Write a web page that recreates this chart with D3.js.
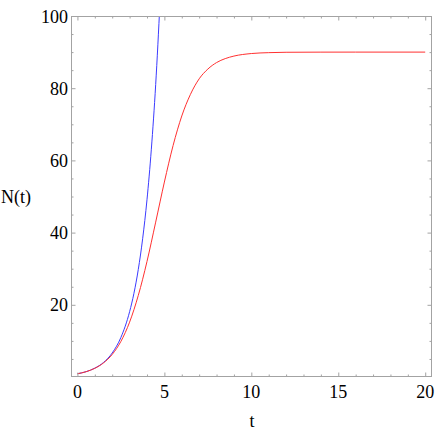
<!DOCTYPE html>
<html><head><meta charset="utf-8">
<script src="https://cdn.jsdelivr.net/npm/d3@7"></script>
<style>body{margin:0;background:#fff}svg{display:block}svg text.lbl{font-family:"Liberation Serif",Tinos,"Times New Roman",serif !important;font-size:18px}</style>
</head><body>
<svg id="c" width="436" height="436"></svg>
<script>
// exponential growth N(t) (blue)
const expT = [0, 0.5, 1, 1.5, 2, 2.5, 3, 3.25, 3.5, 3.75, 4, 4.25, 4.5, 4.75];
const expN = [0.9, 1.48, 2.45, 4.03, 6.65, 10.96, 18.08, 23.2, 29.8, 38.3, 49.1, 63.1, 81.0, 104];
// logistic growth N(t) (red)
const logT = [0, 0.5, 1, 1.5, 2, 2.5, 3, 3.5, 4, 4.5, 5, 5.5, 6, 6.5, 7, 7.5, 8, 8.5, 9, 10, 11, 12, 14, 16, 20];
const logN = [0.9, 1.47, 2.41, 3.9, 6.25, 9.86, 15.2, 22.6, 32.0, 42.9, 54.0, 64.1, 72.3, 78.3, 82.6, 85.3, 87.1, 88.2, 88.9, 89.6, 89.85, 89.95, 89.99, 90, 90];
const xMajor = [0, 5, 10, 15, 20];
const yMajor = [20, 40, 60, 80, 100];

const svg = d3.select("#c");
const L = 71, R = 432, T = 16, B = 377;
const x = d3.scaleLinear().domain([-0.37, 20.39]).range([L, R]);
const y = d3.scaleLinear().domain([0, 100]).range([B, T]);
const frameCol = "#a3a3a3";

svg.append("clipPath").attr("id", "clp").append("rect")
  .attr("x", L).attr("y", T).attr("width", R - L).attr("height", B - T);

const line = d3.line().x(d => x(d[0])).y(d => y(d[1])).curve(d3.curveMonotoneX);
const g = svg.append("g").attr("clip-path", "url(#clp)");
g.append("path").datum(expT.map((t, i) => [t, expN[i]]))
  .attr("d", line).attr("fill", "none").attr("stroke", "#3b3bff").attr("stroke-width", 1);
g.append("path").datum(logT.map((t, i) => [t, logN[i]]))
  .attr("d", line).attr("fill", "none").attr("stroke", "#ff3030").attr("stroke-width", 1);

const xMinor = d3.range(0, 21, 1).filter(v => !xMajor.includes(v));
const yMinor = d3.range(5, 100, 5).filter(v => !yMajor.includes(v));

function frameAxis(axisFn, scale, vals, size, transform) {
  const a = axisFn(scale).tickValues(vals).tickSize(size).tickFormat("");
  const gg = svg.append("g").attr("transform", transform).call(a);
  gg.select(".domain").remove();
  gg.selectAll(".tick text").remove();
  gg.selectAll(".tick line").attr("stroke", frameCol);
  return gg;
}
frameAxis(d3.axisTop, x, xMajor, 4.5, `translate(0,${B})`);
frameAxis(d3.axisTop, x, xMinor, 2.5, `translate(0,${B})`);
frameAxis(d3.axisBottom, x, xMajor, 4.5, `translate(0,${T})`);
frameAxis(d3.axisBottom, x, xMinor, 2.5, `translate(0,${T})`);
frameAxis(d3.axisRight, y, yMajor, 4.5, `translate(${L},0)`);
frameAxis(d3.axisRight, y, yMinor, 2.5, `translate(${L},0)`);
frameAxis(d3.axisLeft, y, yMajor, 4.5, `translate(${R},0)`);
frameAxis(d3.axisLeft, y, yMinor, 2.5, `translate(${R},0)`);
svg.append("rect").attr("x", L + 0.5).attr("y", T + 0.5).attr("width", R - L - 1).attr("height", B - T - 1)
  .attr("fill", "none").attr("stroke", frameCol);

const labels = svg.append("g");
labels.selectAll("text.xl").data(xMajor).join("text").attr("class", "lbl xl")
  .attr("x", d => x(d)).attr("y", 398).attr("text-anchor", "middle").text(d => d);
labels.selectAll("text.yl").data(yMajor).join("text").attr("class", "lbl yl")
  .attr("x", 68).attr("y", d => y(d) + 6.5).attr("text-anchor", "end").text(d => d);
labels.append("text").attr("class", "lbl").attr("x", 1).attr("y", 203).text("N(t)");
labels.append("text").attr("class", "lbl").attr("x", 252).attr("y", 427).attr("text-anchor", "middle").text("t");
</script>
</body></html>
